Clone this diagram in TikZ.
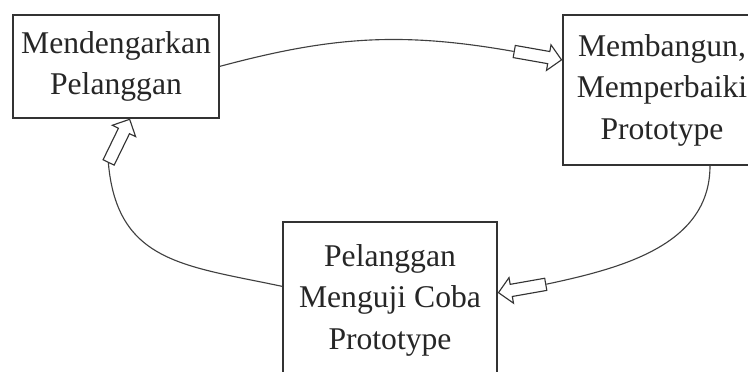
\documentclass[tikz,border=0pt]{standalone}
\usepackage{fontspec}
\setmainfont{Liberation Serif}
\usetikzlibrary{shapes.arrows}

\begin{document}
\begin{tikzpicture}
        \tikzstyle{box}=[rectangle, draw=black!80, line width=1pt, align=center, inner sep=0pt, font=\fontsize{22.5}{29.5}\selectfont, text=black!85]
        \tikzstyle{blockarrow}=[single arrow, draw=black!80, fill=white, line width=0.8pt, inner xsep=0pt, inner ysep=0.14cm, minimum height=1.2cm, single arrow head extend=0.17cm]
        \tikzstyle{edge}=[black!75, line width=0.8pt]

        \clip (0,0) rectangle (18.7,9.3);

        \node[box, minimum width=5.15cm, minimum height=2.575cm] (dengar) at (2.9,7.64) {Mendengarkan\\Pelanggan};
        \node[box, minimum width=4.95cm, minimum height=3.75cm]  (bangun) at (16.55,7.05) {Membangun,\\Memperbaiki\\Prototype};
        \node[box, minimum width=5.35cm, minimum height=3.9cm]   (uji)    at (9.75,1.8) {Pelanggan\\Menguji Coba\\Prototype};

        \node[blockarrow, rotate=-10, anchor=tip] (p1) at ([yshift=0.75cm]bangun.west) {};
        \node[blockarrow, rotate=190, anchor=tip] (p2) at ([yshift=0.18cm]uji.east) {};
        \node[blockarrow, rotate=64, anchor=tip]  (p3) at ([xshift=0.35cm]dengar.south) {};

        \draw[edge] (dengar.east) to[out=15, in=170] (p1.tail);
        \draw[edge] ([xshift=1.2cm]bangun.south) to[out=-90, in=12] (p2.tail);
        \draw[edge] ([yshift=0.34cm]uji.west) to[out=168, in=-85, looseness=1.2] (p3.tail);
    \end{tikzpicture}
\end{document}
